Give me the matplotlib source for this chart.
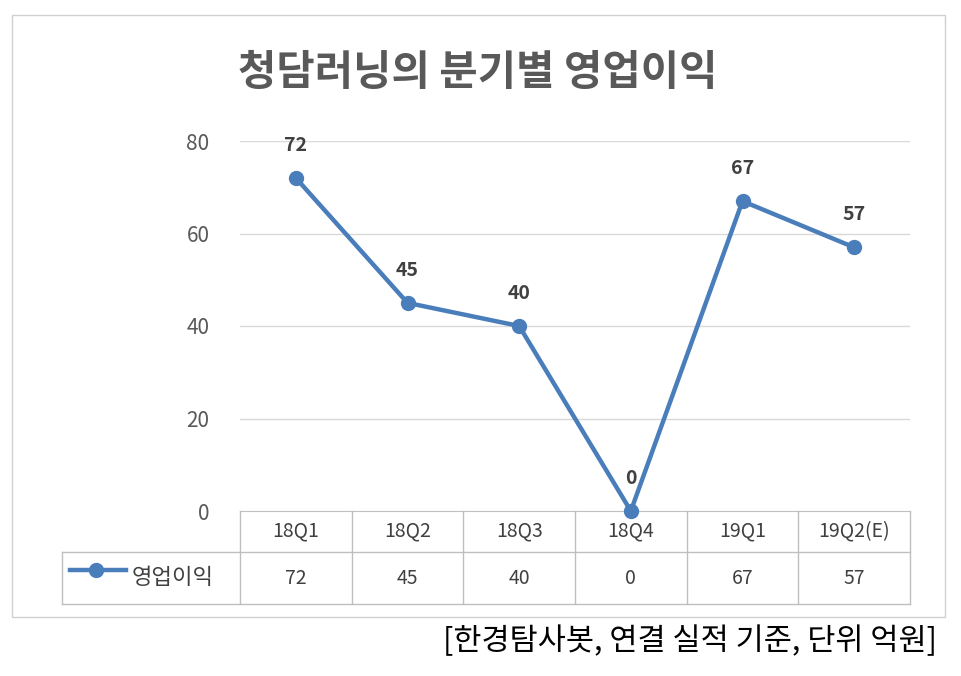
import matplotlib
matplotlib.use("Agg")
import matplotlib.pyplot as plt
from matplotlib.lines import Line2D
from matplotlib.patches import Rectangle

categories = ["18Q1", "18Q2", "18Q3", "18Q4", "19Q1", "19Q2(E)"]
values = [72, 45, 40, 0, 67, 57]
series_name = "영업이익"
title = "청담러닝의 분기별 영업이익"
source = "[한경탐사봇, 연결 실적 기준, 단위 억원]"
yticks = [0, 20, 40, 60, 80]

W, H = 961, 676
plt.rcParams["font.family"] = "Noto Sans CJK KR"
fig = plt.figure(figsize=(W/100, H/100), dpi=100)
fx = lambda x: x / W
fy = lambda y: 1 - y / H

color = "#4a7ebb"
grid = "#d9d9d9"
tcol = "#bfbfbf"

fig.add_artist(Rectangle((fx(12), fy(617)), fx(945)-fx(12), fy(15)-fy(617),
                         transform=fig.transFigure, fill=False, ec="#d0d0d0", lw=1))

L, R, T, B = 240, 910, 141, 511
ax = fig.add_axes([fx(L), fy(B), fx(R)-fx(L), fy(T)-fy(B)])
x = list(range(len(categories)))
ax.plot(x, values, color=color, lw=3.2, marker="o", ms=10, clip_on=False, zorder=3)
for xi, v in zip(x, values):
    ax.text(xi, v + 5, str(v), ha="center", va="bottom", fontsize=14, fontweight="bold", color="#404040")
ax.set_xlim(-0.5, len(categories) - 0.5)
ax.set_ylim(0, 80)
ax.set_yticks(yticks)
ax.set_yticklabels([str(t) for t in yticks], fontsize=15, color="#595959")
ax.tick_params(axis="y", length=0, pad=22)
ax.set_xticks([])
for yt in yticks[1:]:
    ax.axhline(yt, color=grid, lw=1, zorder=0)
for s in ["top", "right", "left"]:
    ax.spines[s].set_visible(False)
ax.spines["bottom"].set_color(tcol)

def line(x0, y0, x1, y1):
    fig.add_artist(Line2D([fx(x0), fx(x1)], [fy(y0), fy(y1)], transform=fig.transFigure, color=tcol, lw=1))
cw = (R - L) / len(categories)
for i in range(len(categories) + 1):
    line(L + i*cw, B, L + i*cw, 604)
line(62, 552, R, 552)
line(62, 604, R, 604)
line(62, 552, 62, 604)
for i, (c, v) in enumerate(zip(categories, values)):
    cx = L + (i + 0.5) * cw
    fig.text(fx(cx), fy(531), c, ha="center", va="center", fontsize=14, color="#404040")
    fig.text(fx(cx), fy(578), str(v), ha="center", va="center", fontsize=14, color="#404040")
fig.add_artist(Line2D([fx(70), fx(126)], [fy(570), fy(570)], transform=fig.transFigure,
                      color=color, lw=3.2))
fig.add_artist(Line2D([fx(96)], [fy(570)], transform=fig.transFigure, color=color, marker="o", ms=10))
fig.text(fx(132), fy(577), series_name, ha="left", va="center", fontsize=16, color="#404040")

fig.text(fx(478), fy(73), title, ha="center", va="center", fontsize=30, fontweight="bold", color="#595959")
fig.text(fx(937), fy(641), source, ha="right", va="center", fontsize=22, color="#000000")

fig.savefig("out.png", dpi=100)
